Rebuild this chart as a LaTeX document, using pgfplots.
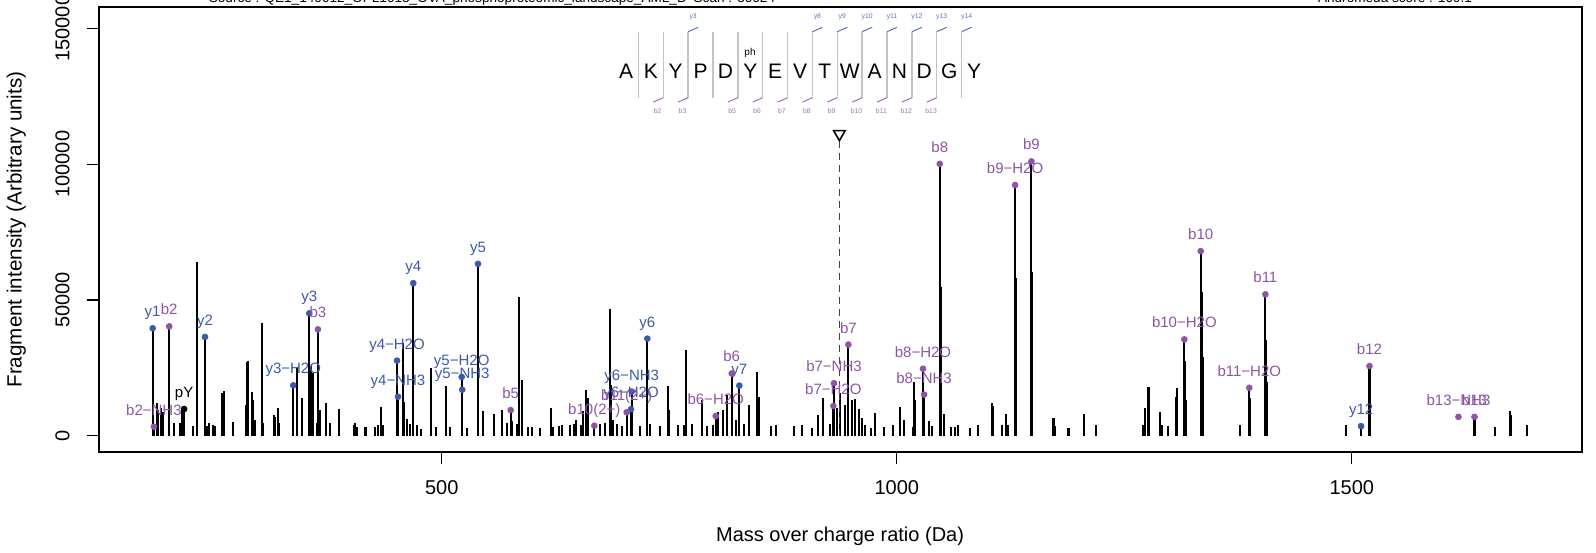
\documentclass[border=0pt]{standalone}
\usepackage{fontspec}
\setmainfont{Liberation Sans}
\usepackage{pgfplots}
\pgfplotsset{compat=1.18}
\usepackage{pgfplotstable}
\usetikzlibrary{calc}

\definecolor{yblue}{HTML}{3C5AA8}
\definecolor{bpurple}{HTML}{8E55A6}
\definecolor{sepgrey}{HTML}{C4C4C4}

\pgfplotstableread{
mz I
182.3 39600
183.7 3400
200.5 40300
216.9 9900
239.8 36400
336.8 18600
354.4 45100
363.9 39200
450.8 27700
451.9 14400
468.7 56200
521.9 21700
522.5 17000
539.8 63300
575.7 9500
667.6 3750
703.2 8700
707.9 9800
708.7 16300
725.9 35800
801.0 7300
818.6 23000
827.0 18500
930.3 11000
931.0 19400
946.8 33600
1028.8 24700
1030.0 15200
1047.2 100100
1130.0 92300
1147.9 101000
1316.0 35500
1334.0 68000
1387.3 17700
1405.0 52100
1510.2 3600
1519.4 25700
1634.8 7000
186.7 12000
188.4 9500
191.1 10200
192.2 4400
193.3 8900
193.9 5200
205.7 4700
212.3 4600
214.1 9500
226.2 3600
230.6 64100
241.6 3800
244.1 4700
248.2 4000
250.7 3600
258.8 15900
260.6 16500
270.2 5200
284.5 11400
285.6 27300
287.3 27700
291.1 16300
292.5 13200
294.7 5800
302.1 41400
303.8 4700
315.6 7700
316.7 7000
320.3 10200
321.1 4700
340.5 25500
346.0 13800
356.2 25700
358.1 23000
362.8 4600
366.1 9500
372.4 12000
377.1 4700
387.4 9800
403.5 4000
404.6 4600
406.5 3400
415.6 3400
416.7 3400
426.6 3300
430.2 4000
433.2 10500
435.4 4000
457.0 34100
458.4 12600
461.4 6200
464.7 4400
472.7 4000
477.2 2500
487.8 24900
493.6 3300
504.6 18400
509.0 3300
528.0 2900
545.6 9300
557.7 8100
565.8 9500
571.7 4600
577.1 5500
583.0 4400
585.2 51000
588.5 20600
595.1 3400
599.5 3400
608.0 2900
619.7 10200
622.5 3400
628.8 3600
632.4 4000
641.0 4000
645.3 4400
647.8 5900
652.7 4000
655.5 9000
658.5 16900
661.0 13800
674.2 4400
679.4 4800
684.8 46700
686.3 18700
688.5 5900
692.6 4400
698.0 3600
717.8 3600
729.2 4400
739.8 3600
748.9 18500
750.0 9500
759.9 4000
766.2 4000
768.0 31600
775.0 4400
785.6 13200
791.5 3600
798.0 4000
803.9 8800
809.4 9500
813.8 15000
823.0 5900
832.5 4400
837.6 11400
846.7 23600
848.6 14400
862.1 3600
867.6 4000
887.1 3600
895.5 4000
906.9 2900
913.8 7700
919.3 13800
926.7 4400
934.0 10300
937.6 15800
943.1 11400
950.5 13200
954.1 13600
958.8 9800
962.0 6600
965.1 4000
971.4 2900
976.1 8300
986.0 3300
995.9 4000
1003.6 10700
1008.0 5900
1018.0 3300
1019.0 19700
1020.1 13200
1035.4 5500
1038.4 3600
1048.2 54900
1052.3 8000
1059.3 3300
1064.0 3300
1067.3 4000
1080.5 2900
1089.0 4000
1104.4 12200
1105.8 11000
1115.6 4000
1120.1 8000
1122.2 4000
1131.0 58000
1148.9 60400
1172.1 6700
1173.6 3600
1188.6 2900
1205.8 8000
1218.6 4000
1271.0 4000
1272.8 10100
1276.5 17900
1289.6 8800
1291.2 4000
1298.4 3600
1307.0 14400
1307.7 17500
1317.0 27600
1318.0 13200
1335.0 53100
1336.0 29100
1377.2 3900
1388.3 13800
1406.0 35300
1407.0 20000
1493.4 3900
1520.4 21800
1657.5 3400
1674.0 9300
1675.1 7700
1692.3 4000
}\peaks

\pgfplotstableread{
mz I lab
182.3 39600 y1
239.8 36400 y2
336.8 18600 y3−H2O
354.4 45100 y3
450.8 27700 y4−H2O
451.9 14400 y4−NH3
468.7 56200 y4
521.9 21700 y5−H2O
522.5 17000 y5−NH3
539.8 63300 y5
707.9 9800 y6−H2O
708.7 16300 y6−NH3
725.9 35800 y6
827.0 18500 y7
1510.2 3600 y12
}\yions

\pgfplotstableread{
mz I lab
183.7 3400 b2−NH3
200.5 40300 b2
363.9 39200 b3
575.7 9500 b5
667.6 3750 b10(2+)
703.2 8700 b11(2+)
801.0 7300 b6−H2O
818.6 23000 b6
930.3 11000 b7−H2O
931.0 19400 b7−NH3
946.8 33600 b7
1028.8 24700 b8−H2O
1030.0 15200 b8−NH3
1047.2 100100 b8
1130.0 92300 b9−H2O
1147.9 101000 b9
1316.0 35500 b10−H2O
1334.0 68000 b10
1387.3 17700 b11−H2O
1405.0 52100 b11
1519.4 25700 b12
1617.2 7000 b13−NH3
1634.8 7000 b13
}\bions

\pgfplotstableread{
mz I lab
216.9 9900 pY
}\pyion

\begin{document}
\begin{tikzpicture}
\begin{axis}[
  scale only axis,
  width=741.4pt, height=222.2pt,
  xmin=123, xmax=1752.4, ymin=-5815, ymax=157700,
  axis line style={line width=1pt},
  tick align=outside, major tick length=6pt,
  tick style={line width=0.6pt, black},
  xtick={500,1000,1500}, ytick={0,50000,100000,150000},
  xticklabels={500,1000,1500},
  yticklabels={0,50000,100000,150000},
  scaled y ticks=false, scaled x ticks=false,
  xtick pos=left, ytick pos=left,
  ticklabel style={font=\fontsize{10}{12}\selectfont},
  yticklabel style={rotate=90, anchor=south},
  xticklabel shift=5pt, yticklabel shift=5pt,
  clip=false,
  every axis x label/.style={at={(axis description cs:0.5,0)}, yshift=-42.5pt, anchor=center, font=\fontsize{10}{12}\selectfont},
  every axis y label/.style={at={(axis description cs:0,0.5)}, xshift=-41.2pt, rotate=90, anchor=center, font=\fontsize{10.3}{12}\selectfont},
  xlabel={Mass over charge ratio (Da)},
  ylabel={Fragment intensity (Arbitrary units)},
]
\addplot[ycomb, black, line width=1.1pt, mark=none] table[x=mz, y=I] {\peaks};
\addplot[black!75, line width=0.8pt, dash pattern=on 3.5pt off 2.5pt] coordinates {(936.9,0) (936.9,108600)};
\addplot[only marks, mark=triangle, mark size=3.33pt, mark options={rotate=180, line width=0.8pt, fill=white, draw=black}] coordinates {(936.9,111100)};
\addplot[only marks, mark=*, mark size=1.45pt, color=yblue, point meta=explicit symbolic,
  nodes near coords={\pgfplotspointmeta},
  every node near coord/.append style={font=\fontsize{7.5}{8}\selectfont, text=yblue, anchor=base, inner sep=0pt, yshift=5.75pt}]
  table[x=mz, y=I, meta=lab] {\yions};
\addplot[only marks, mark=*, mark size=1.45pt, color=bpurple, point meta=explicit symbolic,
  nodes near coords={\pgfplotspointmeta},
  every node near coord/.append style={font=\fontsize{7.5}{8}\selectfont, text=bpurple, anchor=base, inner sep=0pt, yshift=5.75pt}]
  table[x=mz, y=I, meta=lab] {\bions};
\addplot[only marks, mark=*, mark size=1.45pt, color=black, point meta=explicit symbolic,
  nodes near coords={\pgfplotspointmeta},
  every node near coord/.append style={font=\fontsize{7.5}{8}\selectfont, text=black, anchor=base, inner sep=0pt, yshift=5.75pt}]
  table[x=mz, y=I, meta=lab] {\pyion};
\end{axis}

% sequence diagram and header, in pixel units of the reference image
\begin{scope}[shift={($(current axis.south west)+(-49.35pt,225.85pt)$)}, x=0.5pt, y=-0.5pt]
  \foreach \k in {0,...,13} {
    \draw[sepgrey, line width=0.75pt] ({638.4+\k*24.86},31.7) -- ({638.4+\k*24.86},97.7);
  }
  \foreach \L [count=\i from 0] in {A,K,Y,P,D,Y,E,V,T,W,A,N,D,G,Y} {
    \node[font=\fontsize{10.5}{12}\selectfont, inner sep=0pt] at ({626+\i*24.86},71) {\L};
  }
  \foreach \k/\lab in {2/y3,7/y8,8/y9,9/y10,10/y11,11/y12,12/y13,13/y14} {
    \draw[yblue!85, line width=0.5pt] ({638.4+\k*24.86},31.7) -- ++(10,-4.4);
    \node[text=yblue!85, font=\fontsize{3.4}{4}\selectfont, inner sep=0pt] at ({643.4+\k*24.86},17.3) {\lab};
  }
  \foreach \k/\lab in {1/b2,2/b3,4/b5,5/b6,6/b7,7/b8,8/b9,9/b10,10/b11,11/b12,12/b13} {
    \draw[bpurple!85, line width=0.5pt] ({638.4+\k*24.86},97.7) -- ++(-10,4.4);
    \node[text=bpurple!85, font=\fontsize{3.4}{4}\selectfont, inner sep=0pt] at ({632.8+\k*24.86},111) {\lab};
  }
  \node[font=\fontsize{5}{6}\selectfont, inner sep=0pt] at (750,52.7) {ph};
  \node[anchor=base, font=\fontsize{6.8}{8}\selectfont, inner sep=0pt] at (492,2.8) {Source : QE1\_140612\_OPL1013\_OVA\_phosphoproteomic\_landscape\_AML\_B\ \ Scan : 30624};
  \node[anchor=base, font=\fontsize{6.8}{8}\selectfont, inner sep=0pt] at (1395,2.8) {Andromeda score : 109.1};
\end{scope}

\pgfresetboundingbox
\path[use as bounding box] ($(current axis.south west)+(-49.35pt,-50.15pt)$) rectangle ++(798pt,276pt);
\end{tikzpicture}
\end{document}
